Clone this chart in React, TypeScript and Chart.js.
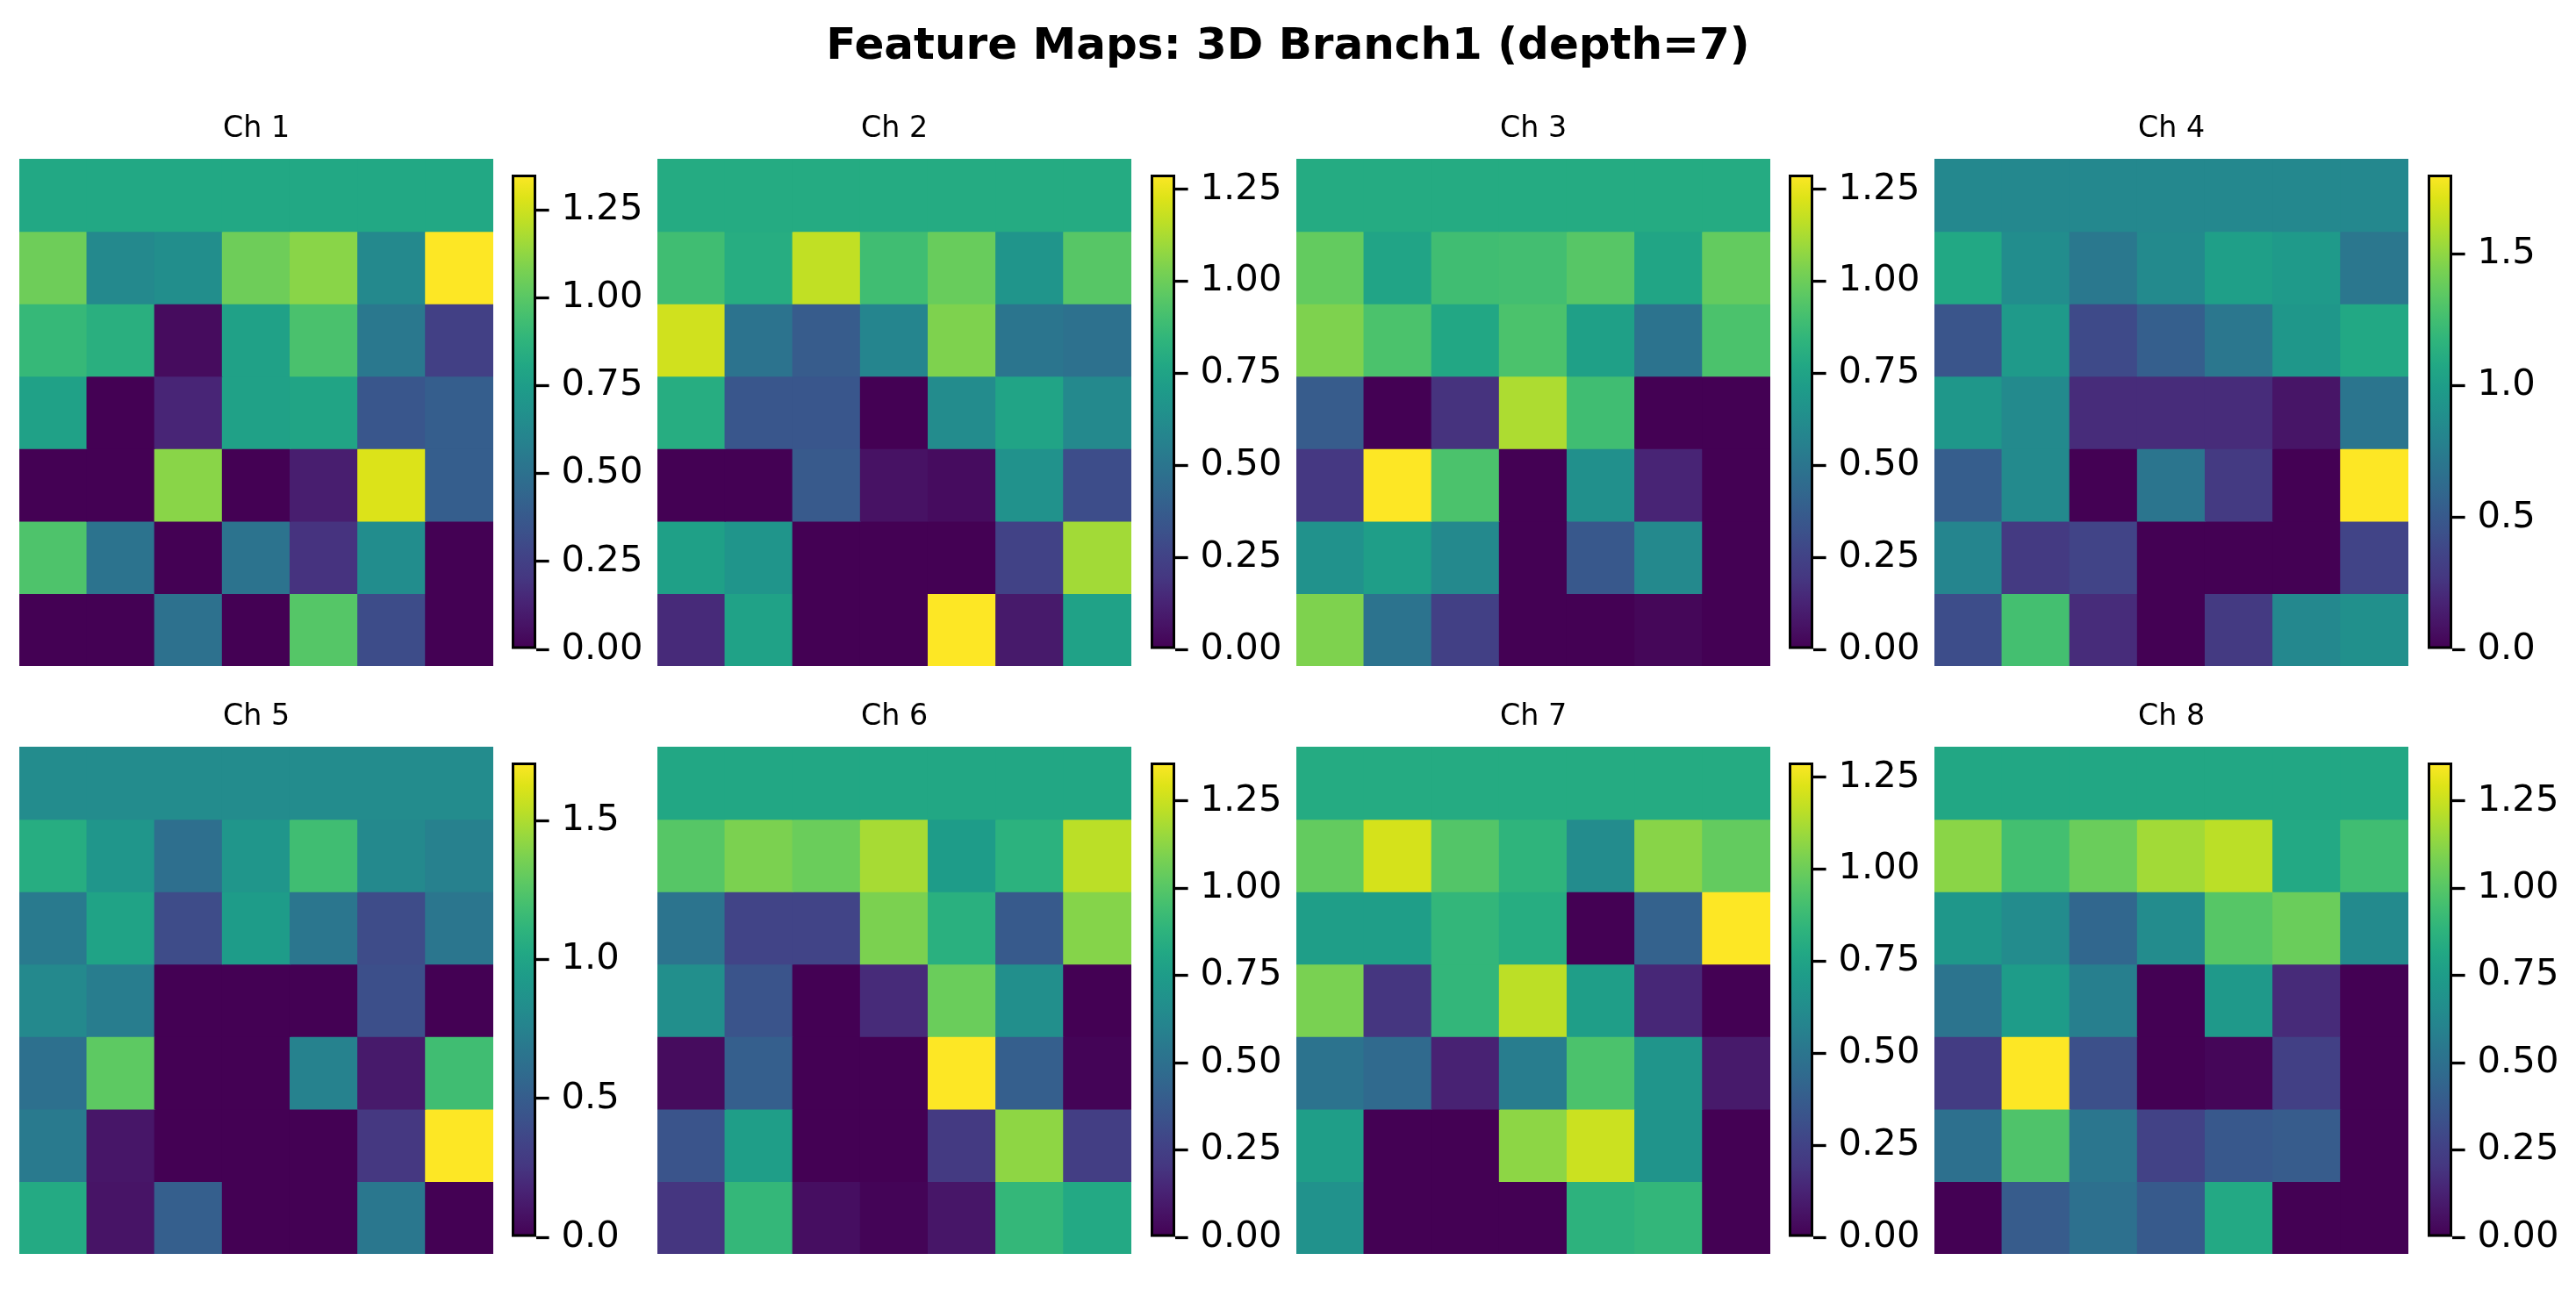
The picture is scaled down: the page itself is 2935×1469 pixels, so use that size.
import React, { useEffect, useRef } from 'react';
import { Chart, registerables } from 'chart.js';

Chart.register(...registerables);

// ---------------- data ----------------
const figureTitle = 'Feature Maps: 3D Branch1 (depth=7)';
const channelNames = ['Ch 1', 'Ch 2', 'Ch 3', 'Ch 4', 'Ch 5', 'Ch 6', 'Ch 7', 'Ch 8'];
const columnLabels = ['0', '1', '2', '3', '4', '5', '6'];

const ch1 = [
  [0.81, 0.81, 0.81, 0.81, 0.81, 0.81, 0.81],
  [1.05, 0.63, 0.66, 1.05, 1.11, 0.63, 1.35],
  [0.90, 0.85, 0.04, 0.77, 0.96, 0.54, 0.25],
  [0.77, 0.00, 0.14, 0.77, 0.79, 0.36, 0.40],
  [0.00, 0.00, 1.11, 0.00, 0.11, 1.28, 0.40],
  [0.97, 0.51, 0.00, 0.51, 0.19, 0.65, 0.00],
  [0.00, 0.00, 0.50, 0.00, 0.99, 0.31, 0.00],
];
const ch2 = [
  [0.79, 0.79, 0.79, 0.79, 0.79, 0.79, 0.79],
  [0.89, 0.80, 1.17, 0.89, 0.99, 0.67, 0.95],
  [1.20, 0.49, 0.37, 0.58, 1.04, 0.50, 0.48],
  [0.80, 0.34, 0.34, 0.00, 0.62, 0.75, 0.60],
  [0.00, 0.00, 0.36, 0.06, 0.04, 0.65, 0.30],
  [0.73, 0.67, 0.00, 0.00, 0.00, 0.25, 1.11],
  [0.15, 0.74, 0.00, 0.00, 1.29, 0.09, 0.74],
];
const ch3 = [
  [0.79, 0.79, 0.79, 0.79, 0.79, 0.79, 0.79],
  [0.98, 0.75, 0.89, 0.90, 0.95, 0.76, 0.98],
  [1.04, 0.92, 0.77, 0.92, 0.73, 0.49, 0.92],
  [0.37, 0.00, 0.18, 1.13, 0.89, 0.00, 0.00],
  [0.20, 1.29, 0.92, 0.00, 0.64, 0.13, 0.00],
  [0.65, 0.72, 0.60, 0.00, 0.35, 0.60, 0.00],
  [1.04, 0.49, 0.24, 0.00, 0.00, 0.02, 0.00],
];
const ch4 = [
  [0.83, 0.83, 0.83, 0.83, 0.83, 0.83, 0.83],
  [1.08, 0.87, 0.72, 0.85, 1.01, 0.97, 0.71],
  [0.47, 0.97, 0.40, 0.54, 0.71, 0.95, 1.08],
  [0.95, 0.85, 0.22, 0.22, 0.22, 0.10, 0.70],
  [0.53, 0.85, 0.00, 0.70, 0.29, 0.00, 1.80],
  [0.81, 0.29, 0.36, 0.00, 0.00, 0.00, 0.36],
  [0.42, 1.26, 0.22, 0.00, 0.29, 0.83, 0.89],
];
const ch5 = [
  [0.82, 0.82, 0.82, 0.82, 0.82, 0.82, 0.82],
  [1.06, 0.89, 0.62, 0.89, 1.18, 0.80, 0.74],
  [0.70, 0.99, 0.39, 0.94, 0.67, 0.39, 0.67],
  [0.80, 0.72, 0.00, 0.00, 0.00, 0.41, 0.00],
  [0.63, 1.28, 0.00, 0.00, 0.75, 0.12, 1.18],
  [0.70, 0.10, 0.00, 0.00, 0.00, 0.26, 1.71],
  [1.04, 0.09, 0.51, 0.00, 0.00, 0.68, 0.00],
];
const ch6 = [
  [0.81, 0.81, 0.81, 0.81, 0.81, 0.81, 0.81],
  [1.00, 1.09, 1.05, 1.18, 0.75, 0.87, 1.22],
  [0.52, 0.27, 0.27, 1.09, 0.86, 0.38, 1.11],
  [0.67, 0.35, 0.00, 0.16, 1.05, 0.67, 0.00],
  [0.04, 0.41, 0.00, 0.00, 1.36, 0.41, 0.01],
  [0.35, 0.76, 0.00, 0.00, 0.22, 1.13, 0.24],
  [0.20, 0.90, 0.05, 0.01, 0.08, 0.90, 0.82],
];
const ch7 = [
  [0.79, 0.79, 0.79, 0.79, 0.79, 0.79, 0.79],
  [0.98, 1.21, 0.94, 0.84, 0.62, 1.06, 0.98],
  [0.72, 0.72, 0.85, 0.80, 0.00, 0.40, 1.29],
  [1.03, 0.19, 0.85, 1.16, 0.72, 0.14, 0.00],
  [0.49, 0.44, 0.12, 0.54, 0.92, 0.67, 0.09],
  [0.72, 0.00, 0.00, 1.07, 1.19, 0.66, 0.00],
  [0.65, 0.00, 0.00, 0.00, 0.83, 0.85, 0.00],
];
const ch8 = [
  [0.81, 0.81, 0.81, 0.81, 0.81, 0.81, 0.81],
  [1.12, 0.95, 1.05, 1.17, 1.22, 0.82, 0.94],
  [0.72, 0.65, 0.45, 0.65, 1.00, 1.05, 0.64],
  [0.52, 0.75, 0.58, 0.00, 0.73, 0.16, 0.00],
  [0.23, 1.36, 0.33, 0.00, 0.02, 0.25, 0.00],
  [0.50, 0.98, 0.53, 0.26, 0.37, 0.39, 0.00],
  [0.00, 0.39, 0.50, 0.38, 0.82, 0.00, 0.00],
];
const channels = [ch1, ch2, ch3, ch4, ch5, ch6, ch7, ch8];

const ticksQuarter = [0, 0.25, 0.5, 0.75, 1.0, 1.25];
const ticksHalf = [0, 0.5, 1.0, 1.5];
const colorbarTicks = [ticksQuarter, ticksQuarter, ticksQuarter, ticksHalf, ticksHalf, ticksQuarter, ticksQuarter, ticksQuarter];
const tickDecimals = [2, 2, 2, 1, 1, 2, 2, 2];

// viridis colormap samples (t = 0 .. 1 in steps of 0.05)
const VIRIDIS = [
  '#440154', '#471365', '#482475', '#453781', '#414487', '#3b528b', '#355f8d',
  '#2f6c8e', '#2a788e', '#25858e', '#21918c', '#1e9c89', '#22a884', '#2fb47c',
  '#44bf70', '#5ec962', '#7ad151', '#9bd93c', '#bddf26', '#dde318', '#fde725',
];

function hexToRgb(h: string) {
  return [parseInt(h.slice(1, 3), 16), parseInt(h.slice(3, 5), 16), parseInt(h.slice(5, 7), 16)];
}
function viridis(t: number) {
  const c = Math.max(0, Math.min(1, t)) * (VIRIDIS.length - 1);
  const i = Math.min(VIRIDIS.length - 2, Math.floor(c));
  const f = c - i;
  const a = hexToRgb(VIRIDIS[i]);
  const b = hexToRgb(VIRIDIS[i + 1]);
  const m = a.map((v, k) => Math.round(v + (b[k] - v) * f));
  return `rgb(${m[0]},${m[1]},${m[2]})`;
}

// ---------------- layout (px) ----------------
const FONT = 'DejaVu Sans';
const colX = [21.5, 749, 1476.5, 2204];
const rowY = [181, 851];
const HEAT_W = 540;
const HEAT_H = 578;
const TITLE_SPACE = 54;
const CB_DX = 561.5;
const CB_DY = 18;
const CB_W = 28;
const CB_H = 541;
const CB_AXIS_W = 150;
const CB_PAD = 45;

function Heatmap({ grid, title, left, top }: { grid: number[][]; title: string; left: number; top: number }) {
  const ref = useRef<HTMLCanvasElement>(null);
  useEffect(() => {
    const vmax = Math.max(...grid.flat());
    const vmin = Math.min(...grid.flat());
    const chart = new Chart(ref.current as HTMLCanvasElement, {
      type: 'bar',
      data: {
        labels: columnLabels,
        datasets: grid.map((row, i) => ({
          label: `row ${i}`,
          data: row.map(() => 1),
          backgroundColor: row.map((v) => viridis((v - vmin) / (vmax - vmin))),
          borderWidth: 0,
          barPercentage: 1,
          categoryPercentage: 1,
          inflateAmount: 0.6,
        })),
      },
      options: {
        animation: false,
        responsive: false,
        devicePixelRatio: 1,
        layout: { padding: 0 },
        plugins: {
          legend: { display: false },
          tooltip: { enabled: false },
          title: {
            display: true,
            text: title,
            color: '#000',
            font: { family: FONT, size: 33.3, weight: 'normal', lineHeight: 1.2 },
            padding: { top: 0, bottom: 14 },
          },
        },
        scales: {
          x: { display: false, stacked: true },
          y: { display: false, stacked: true, min: 0, max: 7, reverse: true },
        },
      },
    } as any);
    return () => chart.destroy();
  }, []);
  return (
    <canvas
      ref={ref}
      width={HEAT_W}
      height={HEAT_H + TITLE_SPACE}
      style={{ position: 'absolute', left, top: top - TITLE_SPACE, width: HEAT_W, height: HEAT_H + TITLE_SPACE }}
    />
  );
}

function Colorbar({ grid, ticks, decimals, left, top }: { grid: number[][]; ticks: number[]; decimals: number; left: number; top: number }) {
  const ref = useRef<HTMLCanvasElement>(null);
  useEffect(() => {
    const vmax = Math.max(...grid.flat());
    const vmin = Math.min(...grid.flat());
    const chart = new Chart(ref.current as HTMLCanvasElement, {
      type: 'bar',
      data: {
        labels: [''],
        datasets: [
          {
            label: 'colorbar',
            data: [[vmin, vmax]],
            backgroundColor: (c: any) => {
              const a = c.chart.chartArea;
              if (!a) return VIRIDIS[10];
              const g = c.chart.ctx.createLinearGradient(0, a.bottom, 0, a.top);
              VIRIDIS.forEach((col, i) => g.addColorStop(i / (VIRIDIS.length - 1), col));
              return g;
            },
            borderColor: '#000',
            borderWidth: 3.3,
            borderSkipped: false,
            barPercentage: 1,
            categoryPercentage: 1,
          },
        ],
      },
      options: {
        animation: false,
        responsive: false,
        devicePixelRatio: 1,
        layout: { padding: { top: CB_PAD, bottom: CB_PAD, left: 0, right: 0 } },
        plugins: { legend: { display: false }, tooltip: { enabled: false } },
        scales: {
          x: { display: false },
          y: {
            position: 'right',
            min: vmin,
            max: vmax,
            afterBuildTicks: (s: any) => {
              s.ticks = ticks.map((v) => ({ value: v }));
            },
            afterFit: (s: any) => {
              s.width = CB_AXIS_W;
            },
            ticks: {
              autoSkip: false,
              color: '#000',
              padding: 14,
              font: { family: FONT, size: 41.7 },
              callback: (v: any) => Number(v).toFixed(decimals),
            },
            grid: {
              display: true,
              drawOnChartArea: false,
              drawTicks: true,
              tickLength: 14.6,
              tickWidth: 3.3,
              tickColor: '#000',
            },
            border: { display: false },
          },
        },
      },
    } as any);
    return () => chart.destroy();
  }, []);
  const w = CB_W + CB_AXIS_W;
  const h = CB_H + 2 * CB_PAD;
  return (
    <canvas
      ref={ref}
      width={w}
      height={h}
      style={{ position: 'absolute', left, top: top - CB_PAD, width: w, height: h }}
    />
  );
}

export default function App() {
  return (
    <div
      style={{
        position: 'fixed',
        left: 0,
        top: 0,
        width: 2935,
        height: 1469,
        background: '#fff',
        overflow: 'hidden',
      }}
    >
      <div
        style={{
          position: 'absolute',
          left: 0,
          top: 25,
          width: 2935,
          textAlign: 'center',
          fontFamily: FONT,
          fontWeight: 'bold',
          fontSize: 50,
          lineHeight: '50px',
          color: '#000',
          whiteSpace: 'nowrap',
        }}
      >
        {figureTitle}
      </div>
      {channels.map((grid, i) => {
        const cx = colX[i % 4];
        const ry = rowY[Math.floor(i / 4)];
        return (
          <React.Fragment key={i}>
            <Heatmap grid={grid} title={channelNames[i]} left={cx} top={ry} />
            <Colorbar
              grid={grid}
              ticks={colorbarTicks[i]}
              decimals={tickDecimals[i]}
              left={cx + CB_DX}
              top={ry + CB_DY}
            />
          </React.Fragment>
        );
      })}
    </div>
  );
}
